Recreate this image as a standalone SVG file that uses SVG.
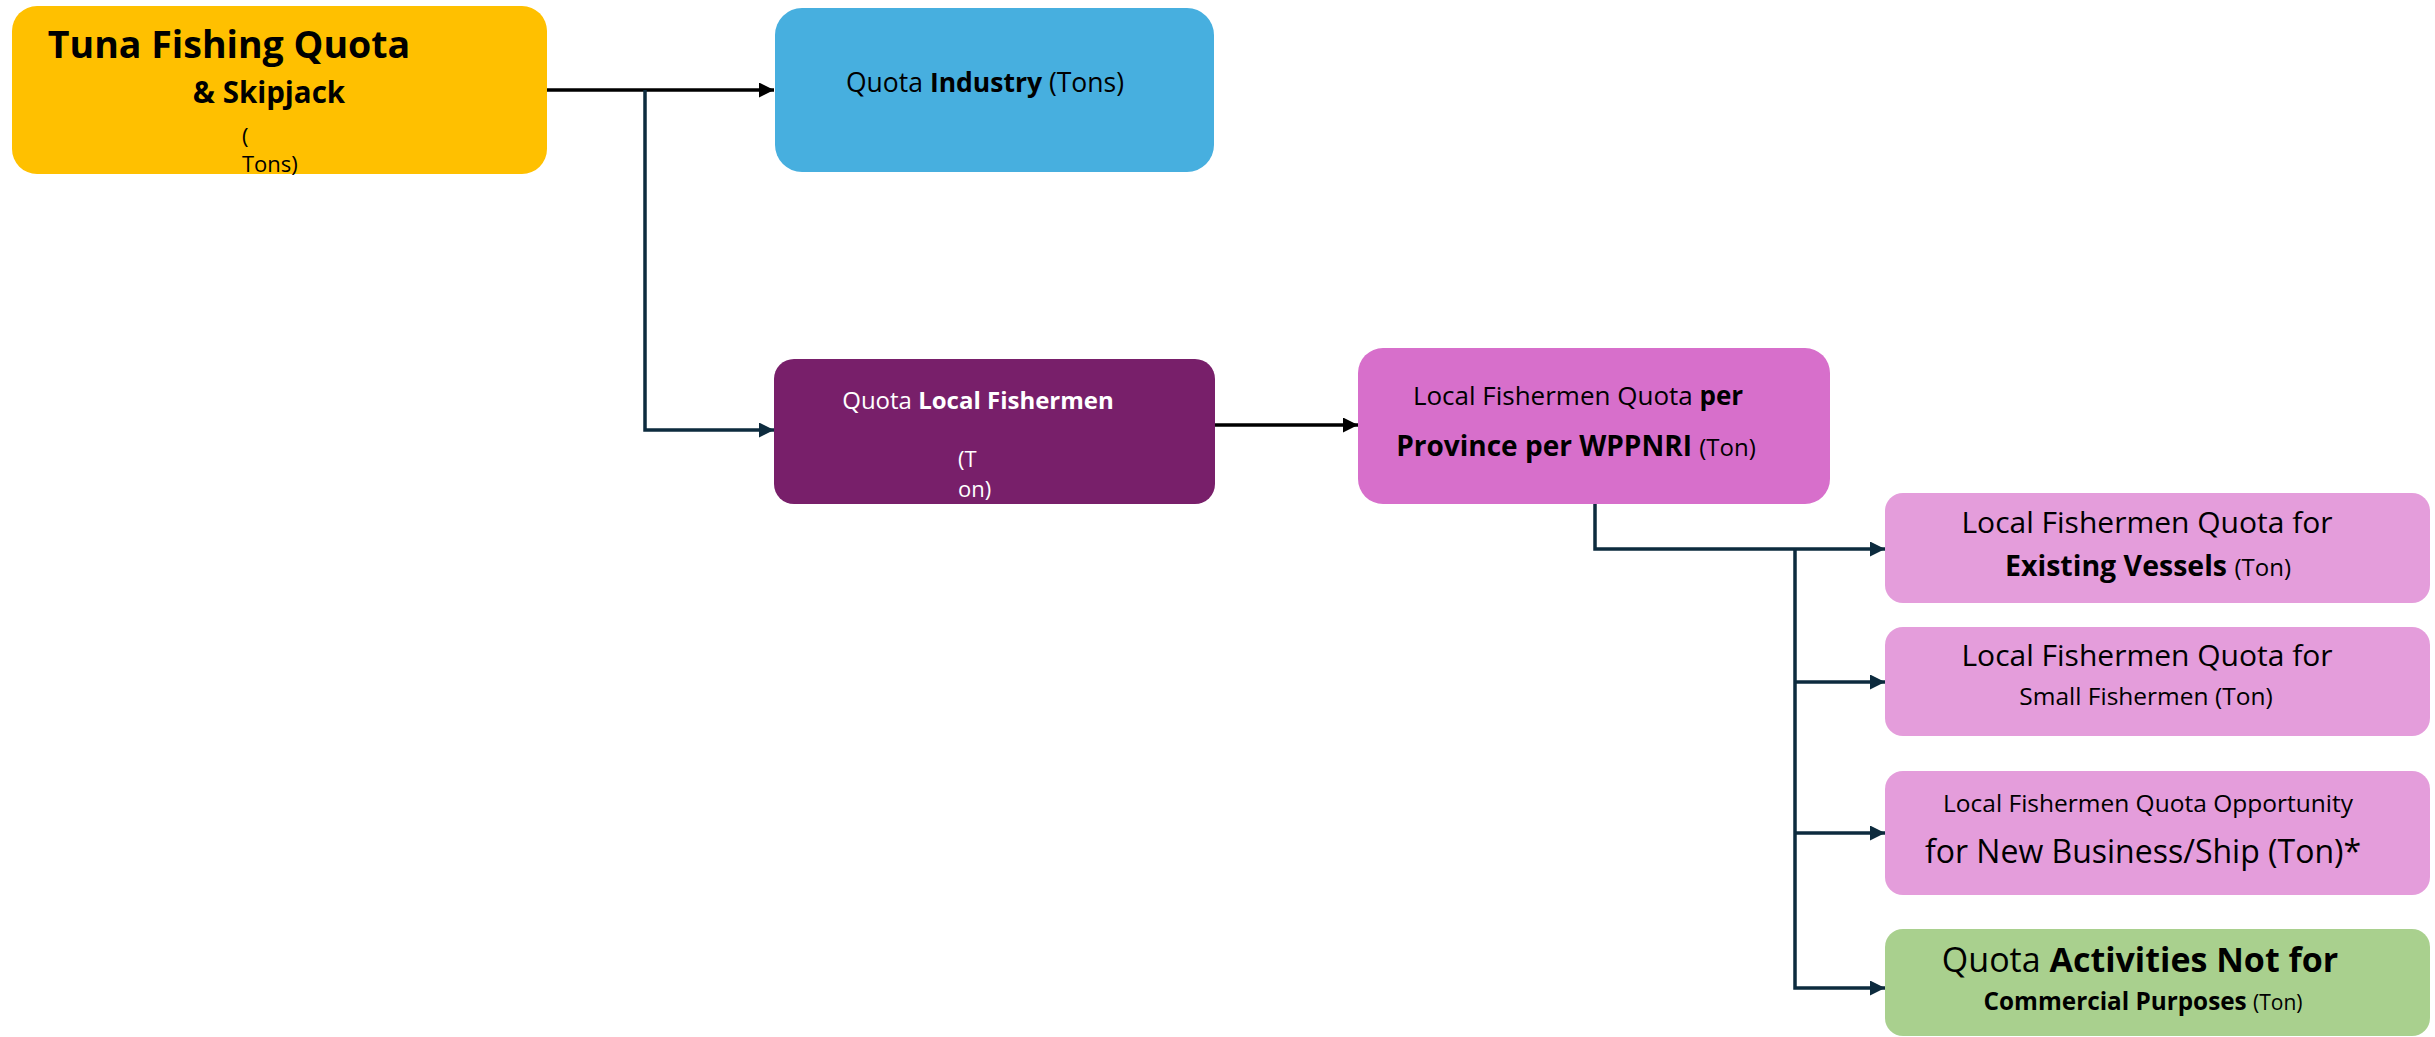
<svg xmlns="http://www.w3.org/2000/svg" width="2435" height="1037" viewBox="0 0 2435 1037">
<style>
text{font-family:"Open Sans","Noto Sans","Liberation Sans",sans-serif;fill:#000}
.b{font-weight:bold}
.w{fill:#fff}
.c{text-anchor:middle}
.ln{fill:none;stroke:#0D2B3E;stroke-width:3.5}
.lk{fill:none;stroke:#000;stroke-width:3.5}
</style>
<defs>
<marker id="ad" viewBox="0 0 10 10" refX="10" refY="5" markerWidth="15" markerHeight="15" markerUnits="userSpaceOnUse" orient="auto"><path d="M0,0L10,5L0,10z" fill="#0D2B3E"/></marker>
<marker id="ak" viewBox="0 0 10 10" refX="10" refY="5" markerWidth="15" markerHeight="15" markerUnits="userSpaceOnUse" orient="auto"><path d="M0,0L10,5L0,10z" fill="#000"/></marker>
</defs>
<g id="connectors">
<path class="lk" d="M547,90H774" marker-end="url(#ak)"/>
<path class="ln" d="M645,90V430H774" marker-end="url(#ad)"/>
<path class="lk" d="M1215,425H1358" marker-end="url(#ak)"/>
<path class="ln" d="M1595,504V549H1885" marker-end="url(#ad)"/>
<path class="ln" d="M1795,549V988H1885" marker-end="url(#ad)"/>
<path class="ln" d="M1795,682H1885" marker-end="url(#ad)"/>
<path class="ln" d="M1795,833H1885" marker-end="url(#ad)"/>
</g>
<g id="tuna">
<rect x="12" y="6" width="535" height="168" rx="25" fill="#FFC000"/>
<text class="b c" x="229" y="58" font-size="37.5">Tuna Fishing Quota</text>
<text class="b c" x="269" y="103" font-size="29.5">&amp; Skipjack</text>
<text x="242" y="144" font-size="22">(</text>
<text x="242" y="172" font-size="22">Tons)</text>
</g>
<g id="industry">
<rect x="775" y="8" width="439" height="164" rx="27" fill="#47AFDF"/>
<text class="c" x="985" y="92" font-size="26.5">Quota <tspan class="b">Industry</tspan> (Tons)</text>
</g>
<g id="local">
<rect x="774" y="359" width="441" height="145" rx="20" fill="#781F6A"/>
<text class="c w" x="978" y="409" font-size="24">Quota <tspan class="b">Local Fishermen</tspan></text>
<text class="w" x="958" y="467" font-size="22">(T</text>
<text class="w" x="958" y="497" font-size="22">on)</text>
</g>
<g id="province">
<rect x="1358" y="348" width="472" height="156" rx="25" fill="#D76FCB"/>
<text class="c" x="1578" y="405" font-size="26">Local Fishermen Quota <tspan class="b">per</tspan></text>
<text class="c" x="1576" y="456" font-size="28"><tspan class="b">Province per WPPNRI</tspan> <tspan font-size="24">(Ton)</tspan></text>
</g>
<g id="existing">
<rect x="1885" y="493" width="545" height="110" rx="18" fill="#E49DDB"/>
<text class="c" x="2147" y="533" font-size="30">Local Fishermen Quota for</text>
<text class="c" x="2148" y="576" font-size="28.5"><tspan class="b">Existing Vessels</tspan> <tspan font-size="24">(Ton)</tspan></text>
</g>
<g id="small">
<rect x="1885" y="627" width="545" height="109" rx="18" fill="#E49DDB"/>
<text class="c" x="2147" y="666" font-size="30">Local Fishermen Quota for</text>
<text class="c" x="2146" y="705" font-size="24.5">Small Fishermen (Ton)</text>
</g>
<g id="opportunity">
<rect x="1885" y="771" width="545" height="124" rx="18" fill="#E49DDB"/>
<text class="c" x="2148" y="812" font-size="24.5">Local Fishermen Quota Opportunity</text>
<text class="c" x="2143" y="863" font-size="32">for New Business/Ship (Ton)*</text>
</g>
<g id="noncommercial">
<rect x="1885" y="929" width="545" height="107" rx="18" fill="#A9D08E"/>
<text class="c" x="2140" y="972" font-size="34">Quota <tspan class="b">Activities Not for</tspan></text>
<text class="c" x="2143" y="1010" font-size="24.3"><tspan class="b">Commercial Purposes</tspan> <tspan font-size="21">(Ton)</tspan></text>
</g>
</svg>
